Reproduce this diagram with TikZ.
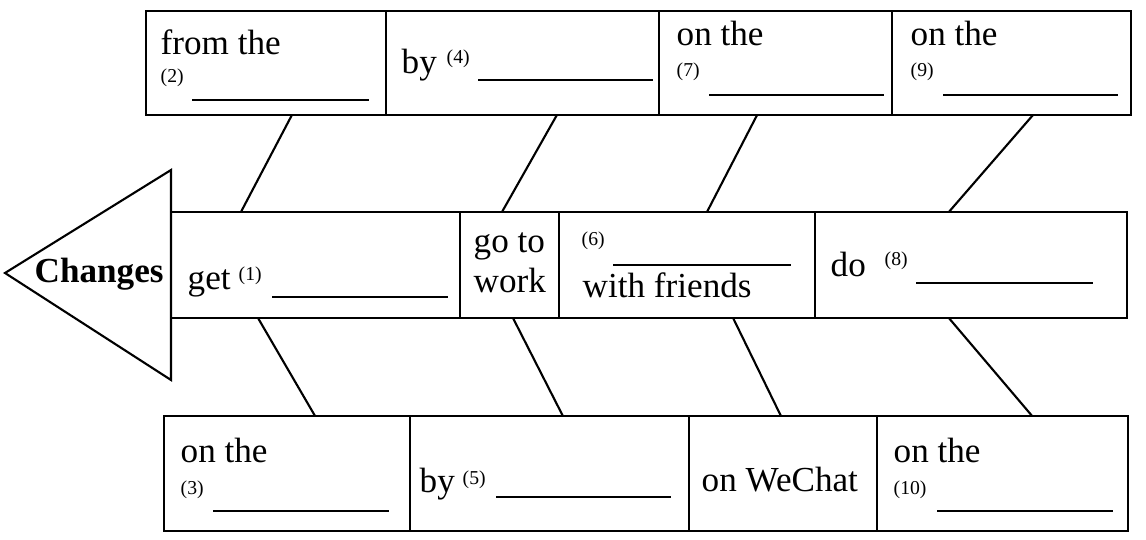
\documentclass[tikz,border=0pt]{standalone}
\usepackage{fontspec}
\setmainfont{Liberation Serif}
\usetikzlibrary{calc}
\tikzset{
  box/.style = {draw, line width=0.6pt, anchor=north west, inner sep=0pt, outer sep=0pt},
  txt/.style = {anchor=base west, inner sep=0pt, font=\fontsize{10}{12}\selectfont},
  qno/.style = {anchor=base west, inner sep=0pt, font=\fontsize{5.6}{6}\selectfont},
  blank/.style = {line width=0.6pt},
  bone/.style = {line width=0.6pt}
}
\begin{document}
\begin{tikzpicture}
\useasboundingbox (0,0) rectangle (11.46,5.40);
% head of the fish
\coordinate (tip) at (0.05,2.67);
\draw[line width = 0.6pt] (1.71,3.70) -- (tip) -- (1.71,1.60) -- cycle;
\node[txt, font=\fontsize{10}{12}\selectfont\bfseries] (changes) at (0.34,2.57) {Changes};
% three rows of boxes
\foreach \n/\x/\w in {t1/1.46/2.40, t2/3.86/2.73, t3/6.59/2.33, t4/8.92/2.39}
  \node[box, minimum width=\w cm, minimum height=1.04cm] (\n) at (\x,5.29) {};
\foreach \n/\x/\w in {m1/1.71/2.89, m2/4.60/0.99, m3/5.59/2.56, m4/8.15/3.12}
  \node[box, minimum width=\w cm, minimum height=1.06cm] (\n) at (\x,3.28) {};
\foreach \n/\x/\w in {b1/1.64/2.46, b2/4.10/2.79, b3/6.89/1.88, b4/8.77/2.51}
  \node[box, minimum width=\w cm, minimum height=1.15cm] (\n) at (\x,1.24) {};
% bones
\foreach \a/\fa/\b/\fb in {t1/0.608/m1/0.242, t2/0.626/m2/0.424, t3/0.421/m3/0.578, t4/0.590/m4/0.429}
  \draw[bone] ($(\a.south west)!\fa!(\a.south east)$) -- ($(\b.north west)!\fb!(\b.north east)$);
\foreach \a/\fa/\b/\fb in {m1/0.301/b1/0.614, m2/0.535/b2/0.548, m3/0.680/b3/0.489, m4/0.429/b4/0.618}
  \draw[bone] ($(\a.south west)!\fa!(\a.south east)$) -- ($(\b.north west)!\fb!(\b.north east)$);
% top row
\node[txt] (t1a) at ([shift={(0.14,-0.44)}]t1.north west) {from the};
\node[qno] (t1b) at ([shift={(0.14,-0.72)}]t1.north west) {(2)};
\draw[blank] ([shift={(0.46,-0.89)}]t1.north west) -- ++(1.77,0);
\node[txt] (t2a) at ([shift={(0.15,-0.63)}]t2.north west) {by};
\node[qno] (t2b) at ([shift={(0.60,-0.53)}]t2.north west) {(4)};
\draw[blank] ([shift={(0.92,-0.69)}]t2.north west) -- ++(1.75,0);
\node[txt] (t3a) at ([shift={(0.17,-0.35)}]t3.north west) {on the};
\node[qno] (t3b) at ([shift={(0.17,-0.66)}]t3.north west) {(7)};
\draw[blank] ([shift={(0.50,-0.84)}]t3.north west) -- ++(1.75,0);
\node[txt] (t4a) at ([shift={(0.18,-0.35)}]t4.north west) {on the};
\node[qno] (t4b) at ([shift={(0.18,-0.66)}]t4.north west) {(9)};
\draw[blank] ([shift={(0.51,-0.84)}]t4.north west) -- ++(1.75,0);
% middle row
\node[txt] (m1a) at ([shift={(0.16,-0.78)}]m1.north west) {get};
\node[qno] (m1b) at ([shift={(0.67,-0.69)}]m1.north west) {(1)};
\draw[blank] ([shift={(1.01,-0.85)}]m1.north west) -- ++(1.76,0);
\node[txt] (m2a) at ([shift={(0.13,-0.41)}]m2.north west) {go to};
\node[txt] (m2b) at ([shift={(0.13,-0.81)}]m2.north west) {work};
\node[qno] (m3a) at ([shift={(0.22,-0.34)}]m3.north west) {(6)};
\draw[blank] ([shift={(0.54,-0.53)}]m3.north west) -- ++(1.78,0);
\node[txt] (m3b) at ([shift={(0.23,-0.86)}]m3.north west) {with friends};
\node[txt] (m4a) at ([shift={(0.15,-0.65)}]m4.north west) {do};
\node[qno] (m4b) at ([shift={(0.69,-0.54)}]m4.north west) {(8)};
\draw[blank] ([shift={(1.01,-0.71)}]m4.north west) -- ++(1.77,0);
% bottom row
\node[txt] (b1a) at ([shift={(0.16,-0.47)}]b1.north west) {on the};
\node[qno] (b1b) at ([shift={(0.16,-0.79)}]b1.north west) {(3)};
\draw[blank] ([shift={(0.49,-0.95)}]b1.north west) -- ++(1.76,0);
\node[txt] (b2a) at ([shift={(0.09,-0.77)}]b2.north west) {by};
\node[qno] (b2b) at ([shift={(0.52,-0.69)}]b2.north west) {(5)};
\draw[blank] ([shift={(0.86,-0.81)}]b2.north west) -- ++(1.75,0);
\node[txt] (b3a) at ([shift={(0.12,-0.76)}]b3.north west) {on WeChat};
\node[txt] (b4a) at ([shift={(0.16,-0.47)}]b4.north west) {on the};
\node[qno] (b4b) at ([shift={(0.16,-0.79)}]b4.north west) {(10)};
\draw[blank] ([shift={(0.60,-0.95)}]b4.north west) -- ++(1.76,0);
\end{tikzpicture}
\end{document}
